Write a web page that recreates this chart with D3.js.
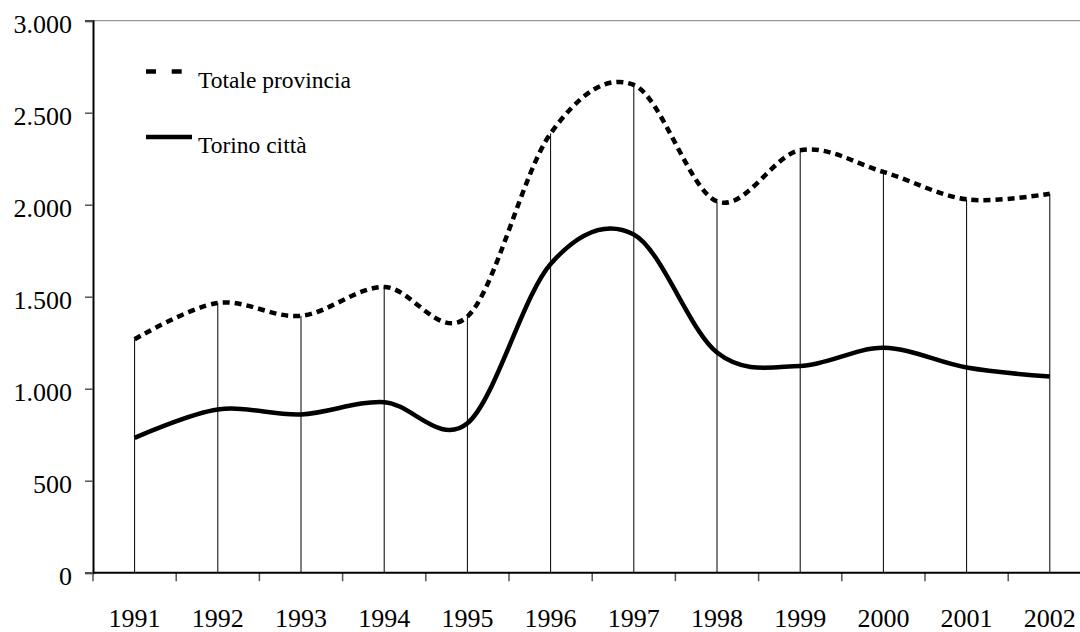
<!DOCTYPE html>
<html>
<head>
<meta charset="utf-8">
<script src="https://cdn.jsdelivr.net/npm/d3@7/dist/d3.min.js"></script>
<style>
html,body{margin:0;padding:0;background:#fff;}
svg{display:block;}
text{font-family:"Liberation Serif","DejaVu Serif",serif;fill:#000;}
</style>
</head>
<body>
<svg id="chart" width="1080" height="632"></svg>
<script>
const years = ["1991","1992","1993","1994","1995","1996","1997","1998","1999","2000","2001","2002"];
const totaleProvincia = [1269,1466,1396,1553,1392,2387,2651,2018,2296,2178,2029,2060];
const torinoCitta = [733,887,860,927,812,1678,1838,1197,1124,1222,1115,1066];
const yTicks = [0,500,1000,1500,2000,2500,3000];
const seriesNames = ["Totale provincia","Torino città"];

(function(){
const svg = d3.select("#chart");
const mLeft = 93, mTop = 20.7, mBottom = 572.7, step = 83.2;
const serif = '"Liberation Serif","DejaVu Serif",serif';

const x = d3.scaleBand().domain(years).range([mLeft, mLeft + step*years.length]).padding(0);
const y = d3.scaleLinear().domain([0,3000]).range([mBottom, mTop]);
const fmt = v => d3.format(",")(v).replace(/,/g, ".");

// top frame line
svg.append("line").attr("x1", mLeft-8).attr("x2", 1080).attr("y1", y(3000)).attr("y2", y(3000))
  .attr("stroke", "#808080").attr("stroke-width", 1);

// drop lines
svg.append("g").selectAll("line").data(years).join("line")
  .attr("x1", d => x(d) + x.bandwidth()/2).attr("x2", d => x(d) + x.bandwidth()/2)
  .attr("y1", (d,i) => y(Math.max(totaleProvincia[i], torinoCitta[i])))
  .attr("y2", y(0))
  .attr("stroke", "#000").attr("stroke-width", 1);

// y axis
const yAxis = svg.append("g").attr("transform", `translate(${mLeft},0)`)
  .attr("font-family", serif)
  .call(d3.axisLeft(y).tickValues(yTicks).tickFormat(fmt).tickSize(8).tickPadding(13));
yAxis.attr("font-family", serif);
yAxis.select(".domain").attr("stroke", "#000").attr("stroke-width", 2);
yAxis.selectAll(".tick line").attr("stroke", "#555").attr("stroke-width", 1.5);
yAxis.selectAll("text").attr("font-size", 26).attr("dy", "0.47em").style("font-family", serif);

// x axis (labels)
const xAxis = svg.append("g").attr("transform", `translate(0,${mBottom})`)
  .call(d3.axisBottom(x).tickSize(0).tickSizeOuter(0));
xAxis.attr("font-family", serif);
xAxis.select(".domain").remove();
xAxis.selectAll("text").attr("font-size", 26).attr("y", 54).attr("dy", 0).style("font-family", serif);

// x boundary ticks
const bounds = years.map(d => x(d)).concat([x(years[years.length-1]) + x.bandwidth()]);
svg.append("g").selectAll("line").data(bounds).join("line")
  .attr("x1", d => d).attr("x2", d => d).attr("y1", mBottom).attr("y2", mBottom + 8.5)
  .attr("stroke", "#555").attr("stroke-width", 1.5);
svg.append("line").attr("x1", mLeft).attr("x2", 1080).attr("y1", mBottom).attr("y2", mBottom)
  .attr("stroke", "#000").attr("stroke-width", 2);

// lines
const line = d3.line()
  .x((d,i) => x(years[i]) + x.bandwidth()/2)
  .y(d => y(d))
  .curve(d3.curveCardinal.tension(0));

svg.append("path").datum(totaleProvincia).attr("d", line)
  .attr("fill", "none").attr("stroke", "#000").attr("stroke-width", 4.5)
  .attr("stroke-dasharray", "7,5");
svg.append("path").datum(torinoCitta).attr("d", line)
  .attr("fill", "none").attr("stroke", "#000").attr("stroke-width", 4.5);

// legend
const lg = svg.append("g").attr("font-family", serif);
lg.append("line").attr("x1", 146).attr("x2", 182).attr("y1", 71.5).attr("y2", 71.5)
  .attr("stroke", "#000").attr("stroke-width", 4.5).attr("stroke-dasharray", "10,15.7");
lg.append("text").attr("x", 198).attr("y", 88).attr("font-size", 23.5).style("font-family", serif).text(seriesNames[0]);
lg.append("line").attr("x1", 146).attr("x2", 192).attr("y1", 137).attr("y2", 137)
  .attr("stroke", "#000").attr("stroke-width", 4.5);
lg.append("text").attr("x", 198).attr("y", 153).attr("font-size", 23.5).style("font-family", serif).text(seriesNames[1]);
})();
</script>
</body>
</html>
